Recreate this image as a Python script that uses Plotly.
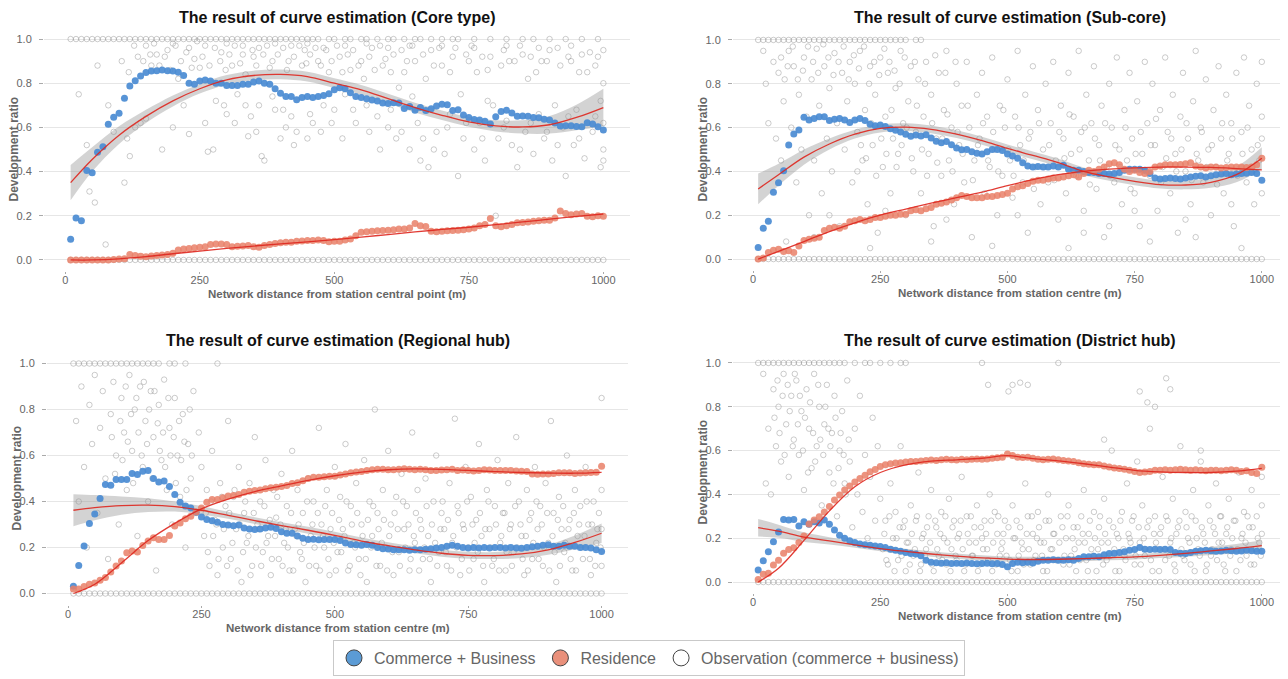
import plotly.graph_objects as go

# ---------------- data ----------------
distance = [10, 20, 30, 40, 50, 60, 70, 80, 90, 100,
            110, 120, 130, 140, 150, 160, 170, 180, 190, 200,
            210, 220, 230, 240, 250, 260, 270, 280, 290, 300,
            310, 320, 330, 340, 350, 360, 370, 380, 390, 400,
            410, 420, 430, 440, 450, 460, 470, 480, 490, 500,
            510, 520, 530, 540, 550, 560, 570, 580, 590, 600,
            610, 620, 630, 640, 650, 660, 670, 680, 690, 700,
            710, 720, 730, 740, 750, 760, 770, 780, 790, 800,
            810, 820, 830, 840, 850, 860, 870, 880, 890, 900,
            910, 920, 930, 940, 950, 960, 970, 980, 990, 1000]

core_commerce = [0.094, 0.19, 0.178, 0.405, 0.395, 0.487, 0.513, 0.614, 0.646, 0.664,
                 0.732, 0.787, 0.811, 0.833, 0.849, 0.855, 0.857, 0.86, 0.857, 0.855,
                 0.85, 0.835, 0.80, 0.795, 0.81, 0.815, 0.81, 0.80, 0.80, 0.79,
                 0.79, 0.79, 0.795, 0.795, 0.805, 0.81, 0.80, 0.795, 0.775, 0.755,
                 0.74, 0.74, 0.725, 0.735, 0.74, 0.735, 0.74, 0.745, 0.752, 0.77,
                 0.78, 0.775, 0.757, 0.74, 0.735, 0.73, 0.724, 0.72, 0.71, 0.708,
                 0.712, 0.71, 0.686, 0.695, 0.678, 0.69, 0.677, 0.685, 0.697, 0.705,
                 0.703, 0.677, 0.68, 0.656, 0.645, 0.636, 0.633, 0.628, 0.615, 0.648,
                 0.672, 0.678, 0.665, 0.651, 0.652, 0.65, 0.645, 0.644, 0.637, 0.633,
                 0.62, 0.606, 0.608, 0.607, 0.604, 0.603, 0.621, 0.615, 0.603, 0.588]
core_residence = [0, 0, 0, 0, 0, 0, 0, 0, 0.002, 0.004,
                  0.006, 0.025, 0.02, 0.017, 0.015, 0.018, 0.02, 0.022, 0.025, 0.03,
                  0.045, 0.05, 0.052, 0.055, 0.058, 0.06, 0.07, 0.072, 0.072, 0.07,
                  0.06, 0.062, 0.063, 0.065, 0.06, 0.058, 0.065, 0.07, 0.075, 0.078,
                  0.08, 0.08, 0.085, 0.086, 0.088, 0.088, 0.09, 0.088, 0.082, 0.085,
                  0.085, 0.09, 0.095, 0.11, 0.125, 0.128, 0.13, 0.132, 0.133, 0.135,
                  0.137, 0.14, 0.14, 0.145, 0.165, 0.155, 0.152, 0.13, 0.128, 0.13,
                  0.132, 0.133, 0.135, 0.137, 0.14, 0.145, 0.155, 0.16, 0.188, 0.155,
                  0.15, 0.155, 0.16, 0.168, 0.17, 0.172, 0.175, 0.178, 0.18, 0.18,
                  0.19, 0.222, 0.21, 0.205, 0.208, 0.21, 0.198, 0.196, 0.2, 0.198]

subcore_commerce = [0.053, 0.14, 0.173, 0.305, 0.348, 0.403, 0.52, 0.571, 0.589, 0.647,
                    0.635, 0.642, 0.65, 0.65, 0.632, 0.638, 0.642, 0.635, 0.623, 0.635,
                    0.642, 0.632, 0.615, 0.608, 0.612, 0.605, 0.595, 0.588, 0.58, 0.57,
                    0.56, 0.566, 0.562, 0.567, 0.552, 0.538, 0.531, 0.536, 0.522, 0.507,
                    0.499, 0.5, 0.49, 0.483, 0.48, 0.49, 0.5, 0.5, 0.495, 0.48,
                    0.47, 0.46, 0.44, 0.425, 0.42, 0.422, 0.42, 0.42, 0.425, 0.42,
                    0.428, 0.41, 0.405, 0.405, 0.4, 0.395, 0.395, 0.39, 0.39, 0.388,
                    0.39, 0.395, 0.405, 0.41, 0.41, 0.41, 0.405, 0.39, 0.37, 0.365,
                    0.368, 0.37, 0.368, 0.365, 0.37, 0.375, 0.378, 0.38, 0.375, 0.38,
                    0.385, 0.388, 0.39, 0.385, 0.388, 0.39, 0.392, 0.395, 0.39, 0.36]
subcore_residence = [0, 0.005, 0.03, 0.04, 0.045, 0.035, 0.038, 0.03, 0.06, 0.085,
                     0.09, 0.095, 0.1, 0.13, 0.14, 0.145, 0.14, 0.15, 0.17, 0.175,
                     0.18, 0.175, 0.18, 0.19, 0.19, 0.195, 0.2, 0.2, 0.205, 0.205,
                     0.22, 0.225, 0.22, 0.23, 0.235, 0.25, 0.255, 0.26, 0.27, 0.28,
                     0.29, 0.285, 0.28, 0.28, 0.28, 0.285, 0.285, 0.29, 0.295, 0.3,
                     0.32, 0.33, 0.335, 0.345, 0.355, 0.36, 0.36, 0.365, 0.37, 0.37,
                     0.375, 0.38, 0.385, 0.375, 0.39, 0.405, 0.4, 0.41, 0.42, 0.435,
                     0.44, 0.43, 0.41, 0.4, 0.405, 0.395, 0.39, 0.4, 0.42, 0.425,
                     0.43, 0.43, 0.43, 0.432, 0.435, 0.44, 0.425, 0.42, 0.415, 0.42,
                     0.42, 0.415, 0.418, 0.42, 0.42, 0.42, 0.418, 0.42, 0.43, 0.46]

regional_commerce = [0.032, 0.122, 0.206, 0.304, 0.346, 0.413, 0.474, 0.471, 0.496, 0.496,
                     0.496, 0.522, 0.517, 0.532, 0.535, 0.5, 0.485, 0.489, 0.465, 0.43,
                     0.397, 0.38, 0.372, 0.353, 0.333, 0.322, 0.316, 0.31, 0.3, 0.298,
                     0.295, 0.298, 0.285, 0.28, 0.278, 0.28, 0.285, 0.288, 0.283, 0.268,
                     0.262, 0.262, 0.25, 0.24, 0.235, 0.236, 0.234, 0.235, 0.235, 0.235,
                     0.23, 0.22, 0.213, 0.212, 0.21, 0.213, 0.21, 0.2, 0.195, 0.193,
                     0.19, 0.19, 0.19, 0.188, 0.19, 0.19, 0.192, 0.195, 0.198, 0.2,
                     0.205, 0.21, 0.205, 0.2, 0.198, 0.2, 0.198, 0.2, 0.198, 0.2,
                     0.2, 0.198, 0.2, 0.198, 0.197, 0.2, 0.203, 0.205, 0.21, 0.212,
                     0.205, 0.205, 0.21, 0.205, 0.205, 0.2, 0.2, 0.198, 0.19, 0.183]
regional_residence = [0.02, 0.02, 0.03, 0.04, 0.046, 0.058, 0.07, 0.093, 0.12, 0.141,
                      0.177, 0.185, 0.18, 0.209, 0.228, 0.242, 0.235, 0.235, 0.252, 0.293,
                      0.307, 0.325, 0.336, 0.354, 0.372, 0.397, 0.409, 0.409, 0.416, 0.424,
                      0.426, 0.43, 0.44, 0.445, 0.448, 0.45, 0.455, 0.46, 0.462, 0.465,
                      0.47, 0.478, 0.482, 0.49, 0.5, 0.505, 0.505, 0.508, 0.51, 0.51,
                      0.515, 0.52, 0.525, 0.528, 0.53, 0.535, 0.538, 0.54, 0.54, 0.538,
                      0.538, 0.54, 0.542, 0.54, 0.538, 0.54, 0.538, 0.535, 0.535, 0.537,
                      0.538, 0.54, 0.535, 0.537, 0.535, 0.533, 0.535, 0.538, 0.537, 0.535,
                      0.535, 0.535, 0.535, 0.533, 0.532, 0.53, 0.52, 0.518, 0.52, 0.52,
                      0.522, 0.525, 0.525, 0.525, 0.522, 0.524, 0.525, 0.526, 0.527, 0.553]

district_commerce = [0.055, 0.097, 0.138, 0.184, 0.228, 0.286, 0.283, 0.286, 0.256, 0.275,
                     0.264, 0.275, 0.27, 0.283, 0.264, 0.237, 0.214, 0.2, 0.189, 0.18,
                     0.174, 0.17, 0.168, 0.165, 0.162, 0.158, 0.15, 0.145, 0.14, 0.135,
                     0.13, 0.128, 0.12, 0.1, 0.09, 0.088, 0.086, 0.088, 0.085, 0.086,
                     0.085, 0.087, 0.085, 0.083, 0.085, 0.086, 0.084, 0.085, 0.08, 0.07,
                     0.085, 0.09, 0.088, 0.09, 0.087, 0.095, 0.1, 0.1, 0.102, 0.1,
                     0.1, 0.102, 0.1, 0.108, 0.115, 0.116, 0.118, 0.115, 0.125, 0.13,
                     0.132, 0.135, 0.138, 0.145, 0.148, 0.158, 0.15, 0.148, 0.15, 0.149,
                     0.15, 0.148, 0.135, 0.132, 0.13, 0.135, 0.14, 0.143, 0.145, 0.143,
                     0.14, 0.142, 0.145, 0.143, 0.14, 0.142, 0.145, 0.143, 0.14, 0.14]
district_residence = [0.012, 0.036, 0.04, 0.078, 0.1, 0.131, 0.149, 0.156, 0.18, 0.21,
                      0.265, 0.283, 0.298, 0.32, 0.345, 0.374, 0.397, 0.42, 0.438, 0.457,
                      0.473, 0.488, 0.503, 0.514, 0.527, 0.535, 0.54, 0.543, 0.545, 0.548,
                      0.55, 0.55, 0.552, 0.555, 0.557, 0.555, 0.558, 0.56, 0.558, 0.557,
                      0.56, 0.558, 0.56, 0.562, 0.56, 0.562, 0.565, 0.567, 0.57, 0.584,
                      0.578, 0.57, 0.568, 0.57, 0.565, 0.56, 0.558, 0.56, 0.562, 0.558,
                      0.555, 0.553, 0.55, 0.545, 0.54, 0.538, 0.535, 0.535, 0.53, 0.525,
                      0.52, 0.518, 0.515, 0.51, 0.505, 0.5, 0.502, 0.505, 0.51, 0.51,
                      0.512, 0.51, 0.512, 0.515, 0.512, 0.51, 0.512, 0.51, 0.508, 0.51,
                      0.51, 0.508, 0.51, 0.512, 0.51, 0.505, 0.508, 0.5, 0.495, 0.524]

# fitted curves (red lines) and half-width of the grey confidence band
fit_x = [10, 50, 100, 150, 200, 250, 300, 350, 400, 450, 500,
         550, 600, 650, 700, 750, 800, 850, 900, 950, 1000]

core_fit_commerce = [0.35, 0.455, 0.565, 0.65, 0.72, 0.775, 0.815, 0.835, 0.84, 0.83, 0.80,
                     0.77, 0.73, 0.69, 0.655, 0.625, 0.607, 0.602, 0.612, 0.645, 0.69]
core_band_halfwidth = [0.08, 0.055, 0.04, 0.03, 0.025, 0.022, 0.022, 0.022, 0.022, 0.022, 0.022,
                       0.022, 0.022, 0.022, 0.022, 0.022, 0.025, 0.03, 0.04, 0.058, 0.085]
core_fit_residence = [0.0, 0.0, 0.005, 0.015, 0.028, 0.04, 0.052, 0.063, 0.073, 0.082, 0.092,
                      0.103, 0.115, 0.127, 0.138, 0.148, 0.16, 0.172, 0.185, 0.197, 0.208]

subcore_fit_commerce = [0.32, 0.385, 0.465, 0.525, 0.57, 0.596, 0.602, 0.592, 0.57, 0.54, 0.505,
                        0.473, 0.44, 0.4, 0.375, 0.355, 0.34, 0.338, 0.35, 0.385, 0.46]
subcore_band_halfwidth = [0.07, 0.05, 0.035, 0.025, 0.02, 0.018, 0.018, 0.018, 0.018, 0.018, 0.018,
                          0.018, 0.018, 0.018, 0.018, 0.018, 0.018, 0.02, 0.025, 0.035, 0.05]
subcore_fit_residence = [0.0, 0.035, 0.08, 0.125, 0.165, 0.2, 0.228, 0.255, 0.28, 0.305, 0.335,
                         0.362, 0.385, 0.4, 0.41, 0.416, 0.42, 0.42, 0.418, 0.413, 0.407]

regional_fit_commerce = [0.362, 0.373, 0.382, 0.384, 0.378, 0.362, 0.34, 0.317, 0.295, 0.275, 0.253,
                         0.228, 0.208, 0.19, 0.175, 0.166, 0.165, 0.172, 0.19, 0.222, 0.262]
regional_band_halfwidth = [0.07, 0.055, 0.04, 0.03, 0.022, 0.018, 0.015, 0.015, 0.015, 0.015, 0.015,
                           0.015, 0.015, 0.015, 0.015, 0.015, 0.015, 0.018, 0.022, 0.03, 0.042]
regional_fit_residence = [0.0, 0.04, 0.133, 0.23, 0.305, 0.368, 0.41, 0.443, 0.468, 0.492, 0.512,
                          0.528, 0.538, 0.542, 0.54, 0.535, 0.53, 0.526, 0.524, 0.523, 0.527]

district_fit_commerce = [0.248, 0.232, 0.205, 0.188, 0.17, 0.153, 0.14, 0.128, 0.118, 0.11, 0.105,
                         0.103, 0.104, 0.107, 0.111, 0.115, 0.122, 0.131, 0.142, 0.153, 0.166]
district_band_halfwidth = [0.04, 0.03, 0.022, 0.017, 0.014, 0.012, 0.012, 0.012, 0.012, 0.012, 0.012,
                           0.012, 0.012, 0.012, 0.012, 0.012, 0.012, 0.015, 0.018, 0.021, 0.025]
district_fit_residence = [0.0, 0.063, 0.19, 0.325, 0.435, 0.5, 0.535, 0.552, 0.558, 0.565, 0.577,
                          0.563, 0.553, 0.54, 0.525, 0.51, 0.503, 0.5, 0.5, 0.506, 0.519]

# observations (commerce + business) - estimated from the point clouds
core_obs_top = [10, 20, 30, 40, 50, 60, 70, 80, 90, 100, 110, 120, 130, 140, 150, 160,
                170, 180, 190, 200, 210, 220, 230, 240, 250, 260, 270, 280, 290, 300,
                310, 320, 330, 340, 350, 360, 370, 380, 390, 400, 410, 420, 430, 440,
                450, 460, 470, 490, 500, 520, 530, 550, 560, 580, 600, 610, 630, 650,
                660, 680, 700, 720, 730, 760, 790, 820, 850, 870, 900, 930, 960, 990]
subcore_obs_top = [10, 20, 30, 40, 50, 60, 70, 80, 90, 100, 110, 120, 130, 140, 150, 160,
                   170, 180, 190, 200, 210, 220, 230, 240, 250, 260, 270, 280, 290, 300,
                   320, 330]
regional_obs_top = [10, 20, 30, 40, 50, 60, 70, 80, 90, 100, 110, 120, 130, 140, 150, 160,
                    170, 190, 200, 220, 280]
district_obs_top = [10, 20, 30, 40, 50, 60, 70, 80, 90, 100, 110, 120, 130, 140, 150, 160,
                    170, 180, 200, 220, 230, 250, 270, 290, 300, 450, 600]

core_obs = [(25, 0.75), (40, 0.52), (45, 0.31), (55, 0.26), (60, 0.88), (75, 0.07), (80, 0.7),
            (90, 0.58), (110, 0.35), (115, 0.55), (120, 0.47), (130, 0.6), (135, 0.92), (140, 0.62),
            (150, 0.64), (160, 0.88), (170, 0.93), (180, 0.5), (190, 0.95), (200, 0.6), (210, 0.82),
            (220, 0.7), (230, 0.57), (240, 0.91), (250, 0.87), (260, 0.62), (265, 0.49), (275, 0.5),
            (280, 0.72), (290, 0.94), (295, 0.7), (300, 0.66), (310, 0.88), (320, 0.75), (330, 0.93),
            (340, 0.56), (345, 0.65), (350, 0.92), (360, 0.7), (365, 0.47), (370, 0.45), (380, 0.87),
            (390, 0.68), (395, 0.93), (400, 0.55), (410, 0.6), (415, 0.9), (420, 0.65), (430, 0.58),
            (440, 0.88), (445, 0.95), (450, 0.55), (460, 0.62), (470, 0.9), (480, 0.7), (490, 0.85),
            (500, 0.68), (510, 0.92), (520, 0.75), (530, 0.86), (540, 0.62), (550, 0.9), (555, 0.82),
            (560, 0.7), (570, 0.96), (580, 0.65), (590, 0.88), (600, 0.6), (610, 0.93), (615, 0.55),
            (620, 0.78), (630, 0.85), (640, 0.5), (650, 0.9), (655, 0.62), (660, 0.45), (670, 0.82),
            (675, 0.42), (680, 0.95), (690, 0.58), (700, 0.88), (705, 0.48), (710, 0.6), (720, 0.92),
            (730, 0.38), (735, 0.75), (740, 0.55), (750, 0.9), (760, 0.5), (765, 0.85), (770, 0.62),
            (780, 0.45), (790, 0.92), (795, 0.7), (800, 0.2), (805, 0.55), (810, 0.88), (820, 0.63),
            (830, 0.52), (835, 0.9), (840, 0.42), (850, 0.93), (855, 0.58), (860, 0.82), (870, 0.48),
            (880, 0.66), (885, 0.9), (890, 0.55), (900, 0.95), (905, 0.45), (910, 0.7), (920, 0.88),
            (925, 0.6), (930, 0.38), (940, 0.9), (945, 0.52), (950, 0.68), (960, 0.93), (965, 0.46),
            (970, 0.85), (980, 0.58), (990, 0.92), (995, 0.42), (1000, 0.5), (1000, 0.8),
            (1000, 0.95), (1000, 0.62), (1000, 0.45), (150, 0.97), (200, 0.98), (230, 0.96),
            (260, 0.97), (300, 0.98), (330, 0.97), (360, 0.96), (390, 0.98), (420, 0.97),
            (450, 0.98), (480, 0.96), (520, 0.97), (560, 0.98), (600, 0.96), (640, 0.97),
            (700, 0.97), (760, 0.96), (820, 0.97), (880, 0.96), (940, 0.97),
            (105, 0.9), (118, 0.85), (128, 0.97), (145, 0.9), (158, 0.93), (165, 0.98), (175, 0.88),
            (185, 0.92), (195, 0.86), (205, 0.97), (215, 0.9), (225, 0.94), (235, 0.87), (245, 0.99),
            (255, 0.92), (268, 0.88), (278, 0.96), (288, 0.9), (298, 0.86), (305, 0.93), (315, 0.97),
            (325, 0.89), (335, 0.84), (348, 0.95), (355, 0.88), (368, 0.93), (375, 0.97), (385, 0.9),
            (405, 0.96), (412, 0.86), (425, 0.92), (435, 0.97), (448, 0.89), (455, 0.93), (465, 0.96),
            (475, 0.88), (485, 0.95), (495, 0.9), (505, 0.97), (515, 0.85), (525, 0.93), (535, 0.95),
            (545, 0.88), (565, 0.92), (575, 0.86), (585, 0.97), (595, 0.91), (605, 0.85), (625, 0.95),
            (635, 0.9), (645, 0.97), (665, 0.93), (685, 0.88), (695, 0.96), (715, 0.85), (725, 0.96),
            (745, 0.93), (755, 0.97), (775, 0.92), (785, 0.86), (815, 0.95), (825, 0.9), (845, 0.97),
            (865, 0.92), (875, 0.85), (895, 0.9), (915, 0.96), (935, 0.92), (955, 0.85), (975, 0.94),
            (985, 0.88), (315, 0.62), (335, 0.7), (355, 0.58), (385, 0.74), (405, 0.68), (425, 0.52),
            (455, 0.66), (475, 0.58), (495, 0.62), (515, 0.55), (535, 0.68), (565, 0.58), (585, 0.5),
            (605, 0.68), (625, 0.58), (645, 0.74), (665, 0.55), (685, 0.5), (715, 0.66), (745, 0.62),
            (775, 0.55), (785, 0.72), (815, 0.6), (845, 0.5), (865, 0.62), (895, 0.58), (915, 0.52),
            (935, 0.65), (955, 0.55), (985, 0.65), (995, 0.72)]

subcore_obs = [(20, 0.95), (25, 0.8), (30, 0.62), (40, 0.9), (45, 0.55), (50, 0.85), (55, 0.45),
               (60, 0.72), (65, 0.08), (70, 0.95), (75, 0.6), (80, 0.88), (85, 0.35), (90, 0.75),
               (95, 0.5), (100, 0.92), (105, 0.65), (110, 0.2), (115, 0.82), (120, 0.45), (125, 0.96),
               (130, 0.7), (135, 0.3), (140, 0.88), (145, 0.55), (150, 0.78), (155, 0.4), (160, 0.94),
               (165, 0.62), (170, 0.15), (175, 0.85), (180, 0.5), (185, 0.72), (190, 0.9), (195, 0.35),
               (200, 0.8), (205, 0.58), (210, 0.95), (215, 0.45), (220, 0.68), (225, 0.25), (230, 0.88),
               (235, 0.52), (240, 0.75), (245, 0.12), (250, 0.92), (255, 0.42), (260, 0.65), (265, 0.85),
               (270, 0.3), (275, 0.55), (280, 0.78), (285, 0.48), (290, 0.95), (295, 0.62), (300, 0.2),
               (305, 0.72), (310, 0.88), (315, 0.4), (320, 0.58), (325, 0.82), (330, 0.3), (335, 0.65),
               (340, 0.9), (345, 0.48), (350, 0.75), (355, 0.15), (360, 0.55), (365, 0.85), (370, 0.38),
               (375, 0.68), (380, 0.95), (385, 0.45), (390, 0.6), (395, 0.25), (400, 0.8), (405, 0.52),
               (410, 0.7), (415, 0.35), (420, 0.9), (425, 0.6), (430, 0.1), (435, 0.45), (440, 0.75),
               (445, 0.55), (450, 0.85), (455, 0.3), (460, 0.65), (465, 0.42), (470, 0.92), (475, 0.5),
               (480, 0.2), (485, 0.7), (490, 0.38), (495, 0.6), (500, 0.82), (505, 0.45), (510, 0.28),
               (515, 0.65), (520, 0.95), (525, 0.52), (530, 0.35), (535, 0.75), (540, 0.12), (545, 0.58),
               (550, 0.88), (555, 0.42), (560, 0.68), (565, 0.25), (570, 0.5), (575, 0.8), (580, 0.35),
               (585, 0.62), (590, 0.9), (595, 0.45), (600, 0.18), (605, 0.7), (610, 0.55), (615, 0.3),
               (620, 0.85), (625, 0.48), (630, 0.65), (635, 0.38), (640, 0.95), (645, 0.58), (650, 0.22),
               (655, 0.75), (660, 0.45), (665, 0.62), (670, 0.88), (675, 0.32), (680, 0.52), (685, 0.7),
               (690, 0.1), (695, 0.42), (700, 0.8), (705, 0.6), (710, 0.35), (715, 0.92), (720, 0.5),
               (725, 0.25), (730, 0.68), (735, 0.45), (740, 0.85), (745, 0.55), (750, 0.3), (755, 0.72),
               (760, 0.15), (765, 0.48), (770, 0.9), (775, 0.62), (780, 0.38), (785, 0.8), (790, 0.52),
               (795, 0.22), (800, 0.68), (805, 0.42), (810, 0.92), (815, 0.58), (820, 0.3), (825, 0.75),
               (830, 0.48), (835, 0.12), (840, 0.65), (845, 0.85), (850, 0.4), (855, 0.55), (860, 0.25),
               (865, 0.72), (870, 0.95), (875, 0.45), (880, 0.6), (885, 0.35), (890, 0.82), (895, 0.5),
               (900, 0.2), (905, 0.68), (910, 0.42), (915, 0.88), (920, 0.55), (925, 0.3), (930, 0.75),
               (935, 0.48), (940, 0.62), (945, 0.15), (950, 0.85), (955, 0.4), (960, 0.58), (965, 0.92),
               (970, 0.35), (975, 0.7), (980, 0.5), (985, 0.25), (990, 0.8), (995, 0.45), (1000, 0.65),
               (1000, 0.3), (1000, 0.9), (1000, 0.55),
               (55, 0.92), (62, 0.82), (68, 0.88), (78, 0.97), (88, 0.82), (98, 0.86), (108, 0.97),
               (118, 0.9), (128, 0.85), (138, 0.98), (148, 0.92), (158, 0.84), (168, 0.9), (178, 0.97),
               (188, 0.82), (198, 0.93), (208, 0.87), (218, 0.97), (228, 0.8), (238, 0.9), (248, 0.84),
               (258, 0.96), (268, 0.9), (278, 0.86), (288, 0.8), (298, 0.92), (318, 0.9), (338, 0.8),
               (358, 0.93), (378, 0.85), (398, 0.9),
               (205, 0.4), (212, 0.52), (222, 0.46), (232, 0.62), (242, 0.38), (252, 0.55), (262, 0.48),
               (272, 0.68), (282, 0.42), (292, 0.52), (302, 0.6), (312, 0.46), (322, 0.7), (332, 0.5),
               (342, 0.38), (352, 0.62), (362, 0.44), (372, 0.55), (382, 0.66), (392, 0.4), (402, 0.58),
               (412, 0.48), (422, 0.7), (432, 0.36), (442, 0.52), (452, 0.62), (462, 0.45), (472, 0.58),
               (482, 0.4), (492, 0.68), (502, 0.5), (512, 0.38), (522, 0.6), (532, 0.45), (542, 0.55),
               (552, 0.32), (562, 0.62), (572, 0.42), (582, 0.52), (592, 0.36), (602, 0.58), (612, 0.46),
               (622, 0.66), (632, 0.4), (642, 0.5), (652, 0.6), (662, 0.34), (672, 0.55), (682, 0.45),
               (692, 0.62), (702, 0.38), (712, 0.52), (722, 0.42), (732, 0.6), (742, 0.32), (752, 0.48),
               (762, 0.58), (772, 0.4), (782, 0.52), (792, 0.64), (802, 0.35), (812, 0.46), (822, 0.55),
               (832, 0.4), (842, 0.5), (852, 0.62), (862, 0.36), (872, 0.48), (882, 0.58), (892, 0.42),
               (902, 0.52), (912, 0.34), (922, 0.62), (932, 0.45), (942, 0.55), (952, 0.38), (962, 0.48),
               (972, 0.6), (982, 0.42), (992, 0.52),
               (120, 0.1), (230, 0.05), (350, 0.08), (470, 0.06), (620, 0.05), (700, 0.15), (780, 0.08),
               (870, 0.1), (960, 0.05), (150, 0.2), (260, 0.22), (380, 0.18), (520, 0.2), (650, 0.12),
               (750, 0.22), (850, 0.18), (940, 0.25)]

regional_obs = [(15, 0.75), (20, 0.4), (25, 0.9), (30, 0.55), (35, 0.2), (40, 0.82), (45, 0.65),
                (50, 0.95), (55, 0.35), (60, 0.72), (65, 0.88), (70, 0.5), (75, 0.15), (80, 0.78),
                (85, 0.92), (90, 0.6), (95, 0.3), (100, 0.85), (105, 0.7), (110, 0.45), (115, 0.95),
                (120, 0.62), (125, 0.8), (130, 0.25), (135, 0.9), (140, 0.55), (145, 0.75), (150, 0.4),
                (155, 0.88), (160, 0.68), (165, 0.1), (170, 0.82), (175, 0.58), (180, 0.93), (185, 0.45),
                (190, 0.72), (195, 0.3), (200, 0.85), (205, 0.6), (210, 0.42), (215, 0.78), (220, 0.2),
                (225, 0.65), (230, 0.5), (235, 0.88), (240, 0.35), (245, 0.7), (250, 0.55),
                (255, 0.25), (260, 0.45), (265, 0.12), (270, 0.62), (275, 0.32), (280, 0.08), (285, 0.48),
                (290, 0.2), (295, 0.38), (300, 0.75), (305, 0.15), (310, 0.42), (315, 0.28), (320, 0.55),
                (325, 0.05), (330, 0.35), (335, 0.22), (340, 0.48), (345, 0.12), (350, 0.68), (355, 0.3),
                (360, 0.4), (365, 0.18), (370, 0.58), (375, 0.25), (380, 0.08), (385, 0.45), (390, 0.33),
                (395, 0.15), (400, 0.52), (405, 0.22), (410, 0.38), (415, 0.1), (420, 0.62), (425, 0.28),
                (430, 0.45), (435, 0.18), (440, 0.35), (445, 0.05), (450, 0.5), (455, 0.25), (460, 0.4),
                (465, 0.12), (470, 0.72), (475, 0.3), (480, 0.2), (485, 0.45), (490, 0.08), (495, 0.35),
                (500, 0.55), (505, 0.18), (510, 0.42), (515, 0.28), (520, 0.65), (525, 0.1), (530, 0.38),
                (535, 0.22), (540, 0.48), (545, 0.15), (550, 0.3), (555, 0.58), (560, 0.05), (565, 0.4),
                (570, 0.25), (575, 0.8), (580, 0.35), (585, 0.12), (590, 0.45), (595, 0.2), (600, 0.62),
                (605, 0.3), (610, 0.08), (615, 0.42), (620, 0.18), (625, 0.52), (630, 0.28), (635, 0.38),
                (640, 0.1), (645, 0.7), (650, 0.22), (655, 0.45), (660, 0.32), (665, 0.15), (670, 0.5),
                (675, 0.25), (680, 0.05), (685, 0.4), (690, 0.6), (695, 0.18), (700, 0.35), (705, 0.28),
                (710, 0.12), (715, 0.48), (720, 0.22), (725, 0.76), (730, 0.38), (735, 0.08), (740, 0.3),
                (745, 0.55), (750, 0.2), (755, 0.42), (760, 0.15), (765, 0.32), (770, 0.65), (775, 0.25),
                (780, 0.05), (785, 0.45), (790, 0.28), (795, 0.12), (800, 0.38), (805, 0.58), (810, 0.22),
                (815, 0.35), (820, 0.1), (825, 0.48), (830, 0.3), (835, 0.18), (840, 0.68), (845, 0.4),
                (850, 0.25), (855, 0.08), (860, 0.45), (865, 0.32), (870, 0.15), (875, 0.55), (880, 0.28),
                (885, 0.38), (890, 0.12), (895, 0.48), (900, 0.22), (905, 0.75), (910, 0.35), (915, 0.05),
                (920, 0.42), (925, 0.28), (930, 0.18), (935, 0.6), (940, 0.32), (945, 0.1), (950, 0.45),
                (955, 0.25), (960, 0.38), (965, 0.15), (970, 0.55), (975, 0.3), (980, 0.08), (985, 0.4),
                (990, 0.22), (995, 0.35), (1000, 0.85), (1000, 0.28), (1000, 0.45), (1000, 0.12),
                (82, 0.68), (88, 0.52), (98, 0.75), (102, 0.58), (108, 0.9), (112, 0.66), (118, 0.78),
                (122, 0.48), (128, 0.85), (132, 0.7), (138, 0.6), (142, 0.92), (148, 0.65), (152, 0.8),
                (158, 0.5), (162, 0.88), (168, 0.74), (172, 0.62), (178, 0.7), (182, 0.55), (188, 0.85),
                (192, 0.6), (198, 0.68), (202, 0.48), (208, 0.75), (212, 0.58), (218, 0.66), (222, 0.45),
                (228, 0.8), (232, 0.6),
                (258, 0.35), (262, 0.18), (268, 0.4), (272, 0.25), (278, 0.3), (282, 0.15), (288, 0.42),
                (292, 0.28), (298, 0.12), (302, 0.35), (308, 0.22), (312, 0.45), (318, 0.1), (322, 0.3),
                (328, 0.18), (332, 0.4), (338, 0.25), (342, 0.08), (348, 0.35), (352, 0.2), (358, 0.28),
                (362, 0.12), (368, 0.38), (372, 0.22), (378, 0.32), (382, 0.15), (388, 0.25), (392, 0.42),
                (398, 0.3), (402, 0.12), (408, 0.28), (412, 0.2), (418, 0.35), (422, 0.1), (428, 0.25),
                (432, 0.3), (438, 0.15), (442, 0.22), (448, 0.4), (452, 0.12), (458, 0.3), (462, 0.2),
                (468, 0.35), (472, 0.1), (478, 0.25), (482, 0.38), (488, 0.15), (492, 0.28), (498, 0.22),
                (502, 0.1), (508, 0.32), (512, 0.18), (518, 0.25), (522, 0.4), (528, 0.12), (532, 0.3),
                (538, 0.2), (542, 0.35), (548, 0.08), (552, 0.25), (558, 0.15), (562, 0.32), (568, 0.2),
                (572, 0.38), (578, 0.12), (582, 0.28), (588, 0.22), (592, 0.32), (598, 0.1), (602, 0.25),
                (608, 0.18), (612, 0.35), (618, 0.28), (622, 0.12), (628, 0.4), (632, 0.2), (638, 0.3),
                (642, 0.15), (648, 0.25), (652, 0.35), (658, 0.1), (662, 0.28), (668, 0.2), (672, 0.38),
                (678, 0.15), (682, 0.3), (688, 0.22), (692, 0.12), (698, 0.28), (702, 0.4), (708, 0.18),
                (712, 0.32), (718, 0.1), (722, 0.25), (728, 0.2), (732, 0.35), (738, 0.15), (742, 0.28),
                (748, 0.4), (752, 0.1), (758, 0.3), (762, 0.22), (768, 0.18), (772, 0.35), (778, 0.12),
                (782, 0.28), (788, 0.4), (792, 0.2), (798, 0.15), (802, 0.3), (808, 0.1), (812, 0.25),
                (818, 0.35), (822, 0.18), (828, 0.28), (832, 0.12), (838, 0.38), (842, 0.2), (848, 0.3),
                (852, 0.15), (858, 0.25), (862, 0.1), (868, 0.35), (872, 0.22), (878, 0.4), (882, 0.15),
                (888, 0.3), (892, 0.2), (898, 0.35), (902, 0.1), (908, 0.25), (912, 0.18), (918, 0.32),
                (922, 0.12), (928, 0.38), (932, 0.22), (938, 0.28), (942, 0.15), (948, 0.35), (952, 0.1),
                (958, 0.3), (962, 0.2), (968, 0.25), (972, 0.4), (978, 0.15), (982, 0.3), (988, 0.12),
                (992, 0.28), (998, 0.2)]

district_obs = [(20, 0.95), (25, 0.45), (30, 0.7), (35, 0.4), (40, 0.88), (45, 0.62), (50, 0.8),
                (55, 0.55), (60, 0.95), (65, 0.72), (70, 0.48), (75, 0.85), (80, 0.65), (85, 0.92),
                (90, 0.58), (95, 0.78), (100, 0.42), (105, 0.88), (110, 0.7), (115, 0.52), (120, 0.95),
                (125, 0.62), (130, 0.8), (135, 0.35), (140, 0.72), (145, 0.9), (150, 0.5), (155, 0.68),
                (160, 0.85), (165, 0.3), (170, 0.6), (175, 0.78), (180, 0.45), (185, 0.92), (190, 0.55),
                (195, 0.25), (200, 0.7), (205, 0.4), (210, 0.85), (215, 0.32), (220, 0.58), (225, 0.2),
                (230, 0.48), (235, 0.75), (240, 0.28), (245, 0.62), (250, 0.38),
                (255, 0.15), (260, 0.28), (265, 0.08), (270, 0.45), (275, 0.2), (280, 0.32), (285, 0.1),
                (290, 0.62), (295, 0.25), (300, 0.05), (305, 0.18), (310, 0.35), (315, 0.12), (320, 0.28),
                (325, 0.5), (330, 0.08), (335, 0.22), (340, 0.15), (345, 0.3), (350, 0.42), (355, 0.05),
                (360, 0.25), (365, 0.12), (370, 0.32), (375, 0.2), (380, 0.08), (385, 0.38), (390, 0.15),
                (395, 0.28), (400, 0.1), (405, 0.22), (410, 0.48), (415, 0.05), (420, 0.3), (425, 0.18),
                (430, 0.12), (435, 0.25), (440, 0.35), (445, 0.08), (450, 0.2), (455, 0.28), (460, 0.15),
                (465, 0.4), (470, 0.05), (475, 0.32), (480, 0.22), (485, 0.12), (490, 0.18), (495, 0.28),
                (505, 0.1), (510, 0.35), (515, 0.2), (520, 0.05), (525, 0.25), (530, 0.15), (535, 0.45),
                (540, 0.3), (545, 0.08), (550, 0.22), (555, 0.12), (560, 0.32), (565, 0.18), (570, 0.05),
                (575, 0.28), (580, 0.4), (585, 0.15), (590, 0.22), (595, 0.1), (605, 0.3), (610, 0.08),
                (615, 0.2), (620, 0.35), (625, 0.12), (630, 0.25), (635, 0.05), (640, 0.18), (645, 0.3),
                (650, 0.42), (655, 0.1), (660, 0.22), (665, 0.15), (670, 0.32), (675, 0.05), (680, 0.25),
                (685, 0.18), (690, 0.38), (695, 0.1), (700, 0.28), (705, 0.6), (710, 0.15), (715, 0.22),
                (720, 0.05), (725, 0.32), (730, 0.12), (735, 0.45), (740, 0.2), (745, 0.28), (750, 0.08),
                (755, 0.55), (760, 0.18), (765, 0.35), (770, 0.12), (775, 0.25), (780, 0.7), (785, 0.05),
                (790, 0.3), (795, 0.15), (800, 0.22), (805, 0.48), (810, 0.1), (815, 0.28), (820, 0.18),
                (825, 0.38), (830, 0.05), (835, 0.25), (840, 0.62), (845, 0.12), (850, 0.32), (855, 0.2),
                (860, 0.08), (865, 0.42), (870, 0.28), (875, 0.15), (880, 0.55), (885, 0.22), (890, 0.05),
                (895, 0.35), (900, 0.12), (905, 0.25), (910, 0.45), (915, 0.18), (920, 0.3), (925, 0.08),
                (930, 0.22), (935, 0.38), (940, 0.15), (945, 0.28), (950, 0.05), (955, 0.5), (960, 0.2),
                (965, 0.32), (970, 0.12), (975, 0.25), (980, 0.42), (985, 0.08), (990, 0.3), (995, 0.18),
                (1000, 0.35), (1000, 0.22), (1000, 0.48), (462, 0.9), (502, 0.87), (510, 0.9), (525, 0.91),
                (540, 0.9), (760, 0.87), (775, 0.82), (790, 0.8), (812, 0.93), (820, 0.88), (690, 0.65),
                (880, 0.6),
                (42, 0.75), (48, 0.92), (52, 0.68), (58, 0.85), (62, 0.58), (68, 0.9), (72, 0.78),
                (78, 0.62), (82, 0.95), (88, 0.72), (92, 0.85), (98, 0.6), (102, 0.75), (108, 0.5),
                (112, 0.82), (118, 0.68), (122, 0.55), (128, 0.9), (132, 0.65), (138, 0.58), (142, 0.8),
                (148, 0.7), (152, 0.62), (158, 0.45), (162, 0.75), (168, 0.52), (172, 0.68), (178, 0.58),
                (182, 0.4), (188, 0.65),
                (258, 0.22), (262, 0.1), (268, 0.3), (272, 0.15), (278, 0.05), (282, 0.2), (288, 0.25),
                (292, 0.12), (298, 0.28), (302, 0.18), (308, 0.08), (312, 0.22), (318, 0.15), (322, 0.3),
                (328, 0.05), (332, 0.2), (338, 0.12), (342, 0.25), (348, 0.18), (352, 0.08), (358, 0.28),
                (362, 0.15), (368, 0.22), (372, 0.1), (378, 0.3), (382, 0.18), (388, 0.05), (392, 0.25),
                (398, 0.12), (402, 0.2), (408, 0.28), (412, 0.15), (418, 0.08), (422, 0.22), (428, 0.3),
                (432, 0.12), (438, 0.18), (442, 0.05), (448, 0.25), (452, 0.15), (458, 0.22), (462, 0.1),
                (468, 0.28), (472, 0.18), (478, 0.08), (482, 0.3), (488, 0.15), (492, 0.22), (498, 0.12),
                (502, 0.25), (508, 0.05), (512, 0.2), (518, 0.28), (522, 0.12), (528, 0.18), (532, 0.08),
                (538, 0.22), (542, 0.15), (548, 0.3), (552, 0.1), (558, 0.2), (562, 0.25), (568, 0.12),
                (572, 0.18), (578, 0.05), (582, 0.28), (588, 0.15), (592, 0.22), (598, 0.1), (602, 0.18),
                (608, 0.25), (612, 0.12), (618, 0.3), (622, 0.08), (628, 0.2), (632, 0.15), (638, 0.25),
                (642, 0.1), (648, 0.22), (652, 0.18), (658, 0.05), (662, 0.28), (668, 0.12), (672, 0.2),
                (678, 0.15), (682, 0.3), (688, 0.08), (692, 0.22), (698, 0.18), (702, 0.12), (708, 0.25),
                (712, 0.05), (718, 0.2), (722, 0.28), (728, 0.15), (732, 0.1), (738, 0.22), (742, 0.18),
                (748, 0.3), (752, 0.12), (758, 0.25), (762, 0.08), (768, 0.2), (772, 0.15), (778, 0.28),
                (782, 0.1), (788, 0.22), (792, 0.18), (798, 0.05), (802, 0.25), (808, 0.15), (812, 0.3),
                (818, 0.12), (822, 0.2), (828, 0.08), (832, 0.22), (838, 0.28), (842, 0.15), (848, 0.1),
                (852, 0.25), (858, 0.18), (862, 0.3), (868, 0.05), (872, 0.2), (878, 0.12), (882, 0.25),
                (888, 0.18), (892, 0.08), (898, 0.28), (902, 0.15), (908, 0.22), (912, 0.1), (918, 0.3),
                (922, 0.18), (928, 0.05), (932, 0.25), (938, 0.12), (942, 0.2), (948, 0.28), (952, 0.15),
                (958, 0.1), (962, 0.22), (968, 0.18), (972, 0.3), (978, 0.08), (982, 0.25), (988, 0.15),
                (992, 0.2), (998, 0.12)]

panel_titles = ["The result of curve estimation (Core type)",
                "The result of curve estimation (Sub-core)",
                "The result of curve estimation (Regional hub)",
                "The result of curve estimation (District hub)"]
x_titles = ["Network distance from station central point (m)",
            "Network distance from station centre (m)",
            "Network distance from station centre (m)",
            "Network distance from station centre (m)"]
y_title = "Development ratio"
x_ticks = [0, 250, 500, 750, 1000]
y_ticks = [0.0, 0.2, 0.4, 0.6, 0.8, 1.0]
legend_names = ["Commerce + Business", "Residence", "Observation (commerce + business)"]

# ---------------- styles ----------------
BLUE = "#4a8bd2"
SALMON = "rgba(233,128,104,0.85)"
FIT_RED = "rgba(222,38,30,0.9)"
BAND = "rgba(150,150,150,0.42)"
OBS = "rgba(135,135,135,0.48)"
FONT = "Liberation Sans, Arial, Helvetica, sans-serif"

panels = [
    dict(commerce=core_commerce, residence=core_residence, fitc=core_fit_commerce,
         hw=core_band_halfwidth, fitr=core_fit_residence, obs=core_obs, top=core_obs_top),
    dict(commerce=subcore_commerce, residence=subcore_residence, fitc=subcore_fit_commerce,
         hw=subcore_band_halfwidth, fitr=subcore_fit_residence, obs=subcore_obs, top=subcore_obs_top),
    dict(commerce=regional_commerce, residence=regional_residence, fitc=regional_fit_commerce,
         hw=regional_band_halfwidth, fitr=regional_fit_residence, obs=regional_obs, top=regional_obs_top),
    dict(commerce=district_commerce, residence=district_residence, fitc=district_fit_commerce,
         hw=district_band_halfwidth, fitr=district_fit_residence, obs=district_obs, top=district_obs_top),
]

W, H = 1288, 679
OFF = 8  # page body margin: figure starts 8px right/down of the window corner
# plot areas in window pixels: (left, right, top, bottom)
boxes = [(44, 630, 28, 271), (733, 1287, 29, 270), (47, 628, 352, 605), (733, 1287, 352, 593)]
title_y = [17.5, 17.5, 340, 340]


def px(x):
    return (x - OFF) / W


def py(y):
    return 1 - (y - OFF) / H


fig = go.Figure()

for i, p in enumerate(panels):
    ax = "" if i == 0 else str(i + 1)
    xa, ya = "x" + ax, "y" + ax
    obs_x = [o[0] for o in p["obs"]] + p["top"] + distance
    obs_y = [o[1] for o in p["obs"]] + [1.0] * len(p["top"]) + [0.0] * len(distance)
    fig.add_trace(go.Scatter(x=obs_x, y=obs_y, mode="markers", xaxis=xa, yaxis=ya,
                             marker=dict(symbol="circle-open", size=5.5, color=OBS, line=dict(width=0.9)),
                             showlegend=False, hoverinfo="skip"))
    upper = [f + h for f, h in zip(p["fitc"], p["hw"])]
    lower = [f - h for f, h in zip(p["fitc"], p["hw"])]
    fig.add_trace(go.Scatter(x=fit_x, y=lower, mode="lines", xaxis=xa, yaxis=ya,
                             line=dict(width=0, shape="spline"), showlegend=False, hoverinfo="skip"))
    fig.add_trace(go.Scatter(x=fit_x, y=upper, mode="lines", xaxis=xa, yaxis=ya, fill="tonexty",
                             fillcolor=BAND, line=dict(width=0, shape="spline"),
                             showlegend=False, hoverinfo="skip"))
    fig.add_trace(go.Scatter(x=distance, y=p["commerce"], mode="markers", xaxis=xa, yaxis=ya,
                             marker=dict(size=7, color=BLUE, opacity=0.92), showlegend=False,
                             name=legend_names[0]))
    fig.add_trace(go.Scatter(x=distance, y=p["residence"], mode="markers", xaxis=xa, yaxis=ya,
                             marker=dict(size=7, color=SALMON), showlegend=False,
                             name=legend_names[1]))
    fig.add_trace(go.Scatter(x=fit_x, y=p["fitc"], mode="lines", xaxis=xa, yaxis=ya,
                             line=dict(color=FIT_RED, width=1.3, shape="spline"), showlegend=False))
    fig.add_trace(go.Scatter(x=fit_x, y=p["fitr"], mode="lines", xaxis=xa, yaxis=ya,
                             line=dict(color=FIT_RED, width=1.3, shape="spline"), showlegend=False))

# legend entries
legend_fill = ["#5b9bd5", "#e9907b", "white"]
for name, col in zip(legend_names, legend_fill):
    fig.add_trace(go.Scatter(x=[None], y=[None], mode="markers", name=name,
                             marker=dict(size=16, color=col, line=dict(color="#444", width=1))))

layout = dict(width=W, height=H, margin=dict(l=0, r=0, t=0, b=0),
              paper_bgcolor="white", plot_bgcolor="white",
              font=dict(family=FONT, color="#555"),
              legend=dict(orientation="h", traceorder="normal", x=px(333), xanchor="left",
                          y=py(640), yanchor="top",
                          bordercolor="#c9c9c9", borderwidth=1, bgcolor="white",
                          font=dict(size=16, color="#666", family=FONT)))
annotations = []
for i, (l, r, t, b) in enumerate(boxes):
    ax = "" if i == 0 else str(i + 1)
    layout["xaxis" + ax] = dict(domain=[px(l), px(r)], anchor="y" + ax, range=[-39.5, 1049.5],
                                tickvals=x_ticks, showgrid=False, zeroline=False, showline=False,
                                ticks="outside", ticklen=2, tickcolor="#aaa", ticklabelstandoff=-3,
                                tickfont=dict(size=11, color="#666"))
    layout["yaxis" + ax] = dict(domain=[py(b), py(t)], anchor="x" + ax, range=[-0.05, 1.05],
                                tickvals=y_ticks, tickformat=".1f", showgrid=True, gridcolor="#e6e6e6",
                                gridwidth=1, zeroline=False, showline=False, ticks="outside",
                                ticklen=4, tickcolor="#aaa", ticklabelstandoff=5,
                                tickfont=dict(size=11, color="#666"))
    cx = px((l + r) / 2)
    annotations.append(dict(text=panel_titles[i], x=cx, y=py(title_y[i]), xref="paper", yref="paper",
                            showarrow=False, xanchor="center", yanchor="middle",
                            font=dict(size=16, color="#111", family=FONT, weight="bold")))
    annotations.append(dict(text=x_titles[i], x=cx, y=py(b + 23), xref="paper", yref="paper",
                            showarrow=False, xanchor="center", yanchor="middle",
                            font=dict(size=11.5, color="#666", family=FONT, weight="bold")))
    annotations.append(dict(text=y_title, x=px(l - 31), y=py((t + b) / 2), xref="paper",
                            yref="paper", showarrow=False, textangle=-90, xanchor="center",
                            yanchor="middle",
                            font=dict(size=12, color="#666", family=FONT, weight="bold")))
layout["annotations"] = annotations
fig.update_layout(**layout)

fig.write_html("out.html")
